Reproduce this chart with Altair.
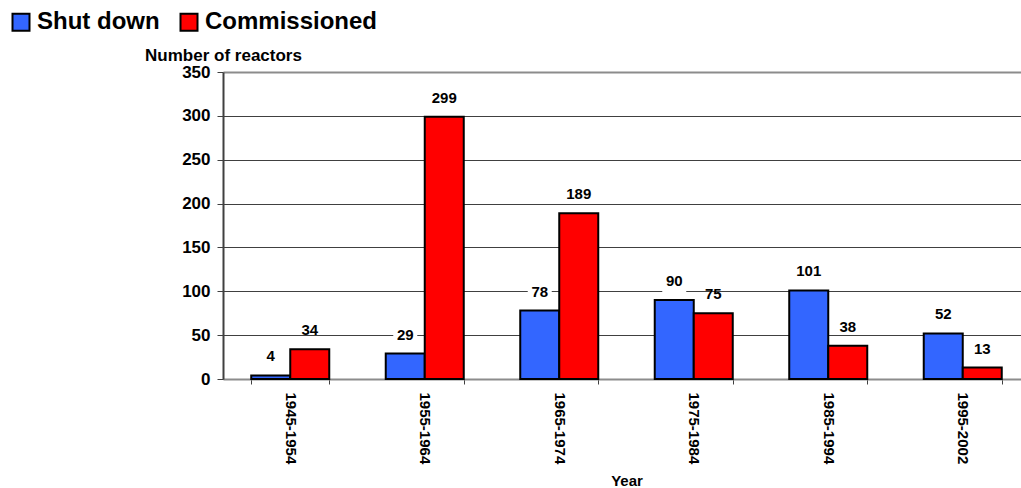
import altair as alt
import pandas as pd

# Reactor counts per decade
periods = ["1945-1954", "1955-1964", "1965-1974", "1975-1984", "1985-1994", "1995-2002"]
shut_down = [4, 29, 78, 90, 101, 52]
commissioned = [34, 299, 189, 75, 38, 13]
series_names = ["Shut down", "Commissioned"]
series_colors = ["#3366FF", "#FF0000"]
y_ticks = [0, 50, 100, 150, 200, 250, 300, 350]

rows = []
for i, p in enumerate(periods):
    rows.append({"period": p, "series": series_names[0], "reactors": shut_down[i]})
    rows.append({"period": p, "series": series_names[1], "reactors": commissioned[i]})
df = pd.DataFrame(rows)

FONT = "Liberation Sans"
DARK = "#404040"
GREY = "#8c8c8c"

x_enc = alt.X(
    "period:N",
    sort=periods,
    scale=alt.Scale(range=[0, 807], paddingInner=0.42, paddingOuter=0.21),
    axis=alt.Axis(
        title="Year",
        labelAngle=90,
        tickBand="extent",
        labelFont=FONT,
        labelFontSize=15,
        labelFontWeight="bold",
        labelColor="black",
        labelPadding=8,
        tickSize=5,
        tickColor=DARK,
        domainColor=GREY,
        domainWidth=2,
        titleFont=FONT,
        titleFontSize=15,
        titleFontWeight="bold",
        titleColor="black",
        titleX=403.5,
        titleY=101,
        titleBaseline="middle",
    ),
)

y_enc = alt.Y(
    "reactors:Q",
    scale=alt.Scale(domain=[0, 350], nice=False),
    axis=alt.Axis(
        values=y_ticks,
        title="Number of reactors",
        titleAngle=0,
        titleX=0,
        titleY=-17,
        titleAlign="center",
        titleBaseline="middle",
        titleFont=FONT,
        titleFontSize=17,
        titleFontWeight="bold",
        titleColor="black",
        labelFont=FONT,
        labelFontSize=17,
        labelFontWeight="bold",
        labelColor="black",
        labelPadding=7,
        tickSize=6,
        tickColor=DARK,
        domainColor=DARK,
        domainWidth=2,
        grid=True,
        gridColor={"condition": {"test": "datum.value === 350", "value": GREY}, "value": DARK},
        gridWidth={"condition": {"test": "datum.value === 350", "value": 2}, "value": 1},
    ),
)

x_off = alt.XOffset("series:N", sort=series_names, scale=alt.Scale(paddingInner=0, paddingOuter=0))

color_enc = alt.Color(
    "series:N",
    sort=series_names,
    scale=alt.Scale(domain=series_names, range=series_colors),
    legend=alt.Legend(
        title=None,
        orient="none",
        legendX=-214,
        legendY=-62,
        direction="horizontal",
        symbolType="square",
        symbolSize=289,
        symbolStrokeColor="black",
        symbolStrokeWidth=2,
        symbolOpacity=1,
        labelFont=FONT,
        labelFontSize=24,
        labelFontWeight="bold",
        labelColor="black",
        labelLimit=400,
        labelOffset=4,
        columnPadding=16,
    ),
)

base = alt.Chart(df)

bars = base.mark_bar(stroke="black", strokeWidth=2).encode(
    x=x_enc, xOffset=x_off, y=y_enc, color=color_enc
)

# white boxes behind the shut-down value labels
boxes = base.transform_filter(alt.datum.series == series_names[0]).mark_point(
    shape="M-1,-0.8H1V1H-1Z", filled=True, color="white", opacity=1, size=576, yOffset=-19
).encode(x=x_enc, xOffset=x_off, y=y_enc)

labels = base.mark_text(
    dy=-19, font=FONT, fontSize=15, fontWeight="bold", color="black", baseline="middle"
).encode(x=x_enc, xOffset=x_off, y=y_enc, text="reactors:Q")

chart = (
    alt.layer(bars, boxes, labels)
    .properties(
        width=798,
        height=307,
        autosize=alt.AutoSizeParams(type="none"),
        padding={"left": 223, "top": 72, "right": 0, "bottom": 109},
    )
    .configure_view(stroke=None)
)

chart.save("out.html", embed_options={"renderer": "svg", "actions": False})
